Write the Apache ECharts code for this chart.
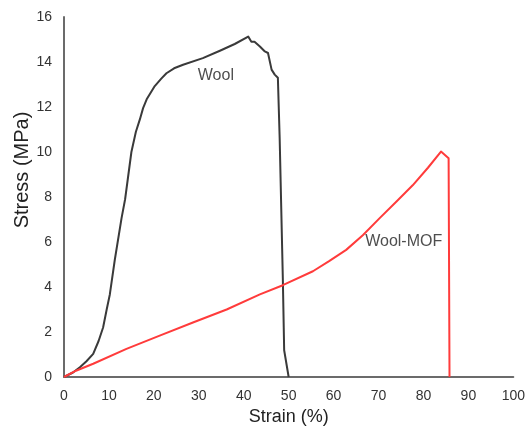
<!DOCTYPE html>
<html>
<head>
<meta charset="utf-8">
<script src="https://cdn.jsdelivr.net/npm/echarts@6/dist/echarts.min.js"></script>
<style>html,body{margin:0;padding:0;background:#fff}#c{width:528px;height:431px}</style>
</head>
<body>
<div id="c"></div>
<script>
// Strain (%) / Stress (MPa)
const woolStrain = [0,2,3.6,5,6.5,7.7,8.7,9.5,10.2,11.3,12.8,13.6,14.2,15,16,16.9,17.6,18.4,20.2,21.6,22.8,24.5,26.5,30.9,34.7,38,41,41.7,42.4,43.6,44.7,45.4,46.2,46.9,47.6,48.0,48.7,49.0,50];
const woolStress = [0,0.2,0.44,0.7,1.03,1.6,2.2,3.0,3.67,5.2,7.05,7.9,8.8,10,10.9,11.46,11.95,12.34,12.93,13.25,13.5,13.72,13.88,14.17,14.5,14.8,15.13,14.9,14.9,14.69,14.47,14.4,13.66,13.44,13.3,10.6,4.4,1.19,0];
const mofStrain = [0,2.8,6.5,13.9,21.3,28.7,36.2,43.6,48.7,55.4,59,62.8,66.5,70.2,74,77.6,81,83.9,85.6,85.8];
const mofStress = [0,0.29,0.59,1.25,1.84,2.42,3.0,3.67,4.08,4.7,5.15,5.65,6.3,7.05,7.8,8.52,9.3,10.02,9.72,0];
const seriesNames = ['Wool','Wool-MOF'];
const labelPos = [[33.8,13.4],[75.6,6.0]];

const zip = (a,b)=>a.map((v,i)=>[v,b[i]]);
const chart = echarts.init(document.getElementById('c'));
const font = 'Liberation Sans, Arial, sans-serif';
chart.setOption({
  animation:false,
  grid:{left:64,right:14,top:17,bottom:51,containLabel:false},
  xAxis:{type:'value',min:0,max:100,interval:10,
    name:'Strain (%)',nameLocation:'middle',nameGap:31,
    nameTextStyle:{fontSize:18,color:'#222',fontFamily:font},
    axisLine:{lineStyle:{color:'#6b6b6b',width:2}},axisTick:{show:false},
    axisLabel:{fontSize:14,color:'#333',margin:12,fontFamily:font},
    splitLine:{show:false}},
  yAxis:{type:'value',min:0,max:16,interval:2,
    axisLine:{show:true,lineStyle:{color:'#6b6b6b',width:2}},axisTick:{show:false},
    axisLabel:{fontSize:14,color:'#333',margin:12,fontFamily:font},
    splitLine:{show:false}},
  graphic:[{type:'text',x:22,y:170,rotation:Math.PI/2,
    style:{text:'Stress (MPa)',font:'20px '+font,fill:'#222',align:'center',verticalAlign:'middle'}}],
  series:[
    {name:seriesNames[0],type:'line',data:zip(woolStrain,woolStress),showSymbol:false,smooth:false,
      lineStyle:{color:'#3a3a3a',width:2,join:'round'},z:2},
    {name:seriesNames[1],type:'line',data:zip(mofStrain,mofStress),showSymbol:false,smooth:false,
      lineStyle:{color:'#ff3b3b',width:2,join:'round'},z:3},
    {type:'scatter',symbolSize:0,data:labelPos.map((p,i)=>({value:p,name:seriesNames[i]})),
      label:{show:true,position:'inside',formatter:'{b}',fontSize:16,color:'#222',fontFamily:font},z:5}
  ]
});
</script>
</body>
</html>
